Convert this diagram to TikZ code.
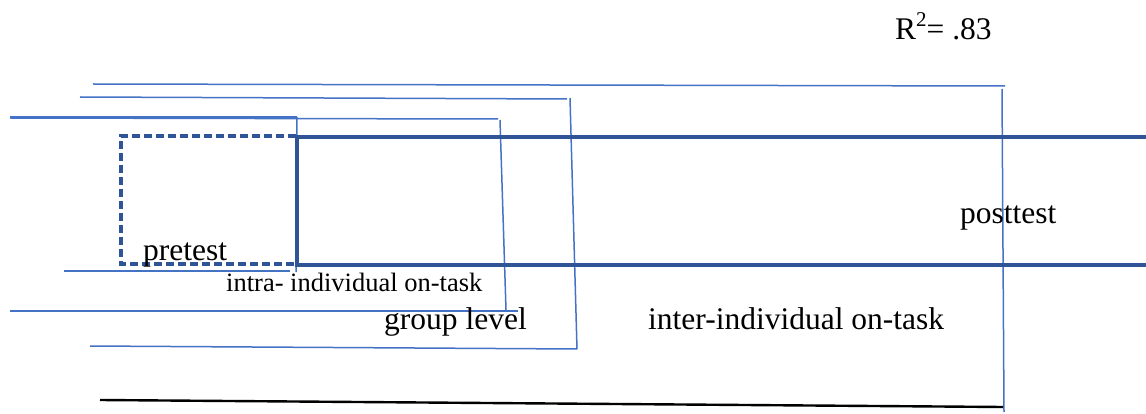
\documentclass[tikz,border=0pt]{standalone}
\usepackage{fontspec}
\setmainfont{Liberation Serif}
\definecolor{lineblue}{HTML}{4472C4}
\definecolor{boxblue}{HTML}{2F5597}

\begin{document}
\begin{tikzpicture}[x=1pt, y=-1pt,
    bracket/.style={draw=lineblue, line width=1.5pt},
    boxline/.style={draw=boxblue, line width=3.2pt},
    lbl/.style={inner sep=0pt, anchor=base west, font=\fontsize{31.5}{36}\selectfont},
    small lbl/.style={lbl, font=\fontsize{26.5}{30}\selectfont}]
    \useasboundingbox (0,0) rectangle (1146,414);

    % posttest bracket
    \coordinate (post top L) at (93,84);
    \coordinate (post top R) at (1005,86);
    \coordinate (post side T) at (1002,89);
    \coordinate (post side B) at (1004,412);
    \coordinate (post bot L) at (100,400);
    \coordinate (post bot R) at (1003,407);
    \draw [bracket] (post top L) -- (post top R);
    \draw [bracket] (post side T) -- (post side B);
    \draw [black, line width=2.4pt] (post bot L) -- (post bot R);

    % inter-individual bracket
    \coordinate (inter top L) at (80,97);
    \coordinate (inter top R) at (567,99);
    \coordinate (inter side T) at (570,98);
    \coordinate (inter side B) at (577,349);
    \coordinate (inter bot L) at (90,346);
    \draw [bracket] (inter top L) -- (inter top R);
    \draw [bracket] (inter side T) -- (inter side B);
    \draw [bracket] (inter bot L) -- (inter side B);

    % group level bracket
    \coordinate (group top L) at (10,118);
    \coordinate (group top R) at (498,119);
    \coordinate (group side T) at (500,120);
    \coordinate (group side B) at (506,310);
    \coordinate (group bot L) at (10,311);
    \coordinate (group bot R) at (518,311);
    \draw [bracket] (group top L) -- (group top R);
    \draw [bracket] (group side T) -- (group side B);
    \draw [bracket] (group bot L) -- (group bot R);

    % intra-individual bracket
    \coordinate (intra top L) at (10,117);
    \coordinate (intra top R) at (297,117);
    \coordinate (intra side B) at (296,272);
    \coordinate (intra bot L) at (64,271);
    \coordinate (intra bot R) at (290,271);
    \draw [bracket] (intra top L) -- (intra top R);
    \draw [bracket] (intra top R) -- (intra side B);
    \draw [bracket] (intra bot L) -- (intra bot R);

    % pretest (dashed) and posttest boxes
    \coordinate (pre NE) at (296,136);
    \coordinate (pre SE) at (296,264);
    \draw [boxline, dash pattern=on 8pt off 4pt] (pre NE) -- (121,136) -- (121,264) -- (pre SE);
    \coordinate (post NW) at (297,137);
    \coordinate (post SW) at (297,265);
    \draw [boxline] (1146,137) -- (post NW) -- (post SW) -- (1146,265);

    % labels
    \node [lbl] (rsq) at (895,40) {R\raisebox{0.42em}{\fontsize{21}{24}\selectfont 2}= .83};
    \node [lbl] (posttest) at (960,224) {posttest};
    \node [lbl] (pretest) at (143,260) {pretest};
    \node [small lbl] (intra) at (226,291) {intra- individual on-task};
    \node [lbl] (group) at (384,329) {group level};
    \node [lbl] (inter) at (648,329) {inter-individual on-task};
\end{tikzpicture}
\end{document}
